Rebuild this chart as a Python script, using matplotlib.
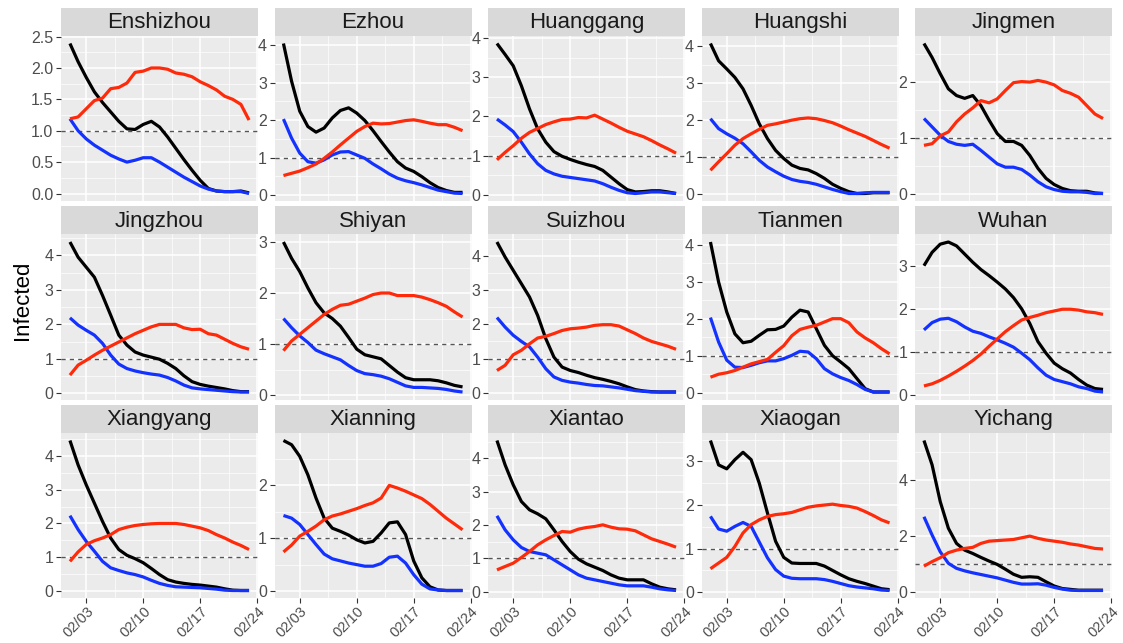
import numpy as np
import pandas as pd
import matplotlib
matplotlib.use("Agg")
import matplotlib.pyplot as plt
import matplotlib.dates as mdates
from matplotlib.ticker import MultipleLocator, FormatStrFormatter

plt.rcParams['font.family'] = ['Liberation Sans', 'DejaVu Sans']

# ---------------- data ----------------
dates = pd.date_range("2020-02-01", periods=23, freq="D")

cities = ["Enshizhou", "Ezhou", "Huanggang", "Huangshi", "Jingmen",
          "Jingzhou", "Shiyan", "Suizhou", "Tianmen", "Wuhan",
          "Xiangyang", "Xianning", "Xiantao", "Xiaogan", "Yichang"]

black = {
    "Enshizhou": [2.39, 2.1, 1.85, 1.62, 1.45, 1.3, 1.15, 1.03, 1.02, 1.1, 1.15, 1.06, 0.9, 0.72, 0.54, 0.37, 0.21, 0.08, 0.04, 0.03, 0.03, 0.04, 0.01],
    "Ezhou": [4.05, 3.04, 2.24, 1.83, 1.68, 1.79, 2.06, 2.26, 2.33, 2.19, 1.99, 1.72, 1.43, 1.15, 0.89, 0.72, 0.63, 0.49, 0.33, 0.2, 0.12, 0.07, 0.07],
    "Huanggang": [3.86, 3.58, 3.29, 2.78, 2.19, 1.68, 1.34, 1.1, 0.98, 0.9, 0.83, 0.77, 0.72, 0.62, 0.45, 0.28, 0.13, 0.07, 0.08, 0.1, 0.1, 0.07, 0.03],
    "Huangshi": [4.07, 3.6, 3.38, 3.15, 2.84, 2.39, 1.89, 1.49, 1.17, 0.95, 0.77, 0.68, 0.64, 0.54, 0.41, 0.25, 0.14, 0.05, 0.0, 0.0, 0.02, 0.02, 0.02],
    "Jingmen": [2.68, 2.43, 2.14, 1.87, 1.75, 1.7, 1.75, 1.57, 1.31, 1.07, 0.93, 0.93, 0.86, 0.68, 0.45, 0.27, 0.16, 0.09, 0.05, 0.04, 0.04, 0.01, 0.0],
    "Jingzhou": [4.39, 3.95, 3.66, 3.37, 2.84, 2.27, 1.69, 1.4, 1.2, 1.11, 1.05, 0.99, 0.87, 0.72, 0.51, 0.34, 0.26, 0.21, 0.17, 0.13, 0.08, 0.05, 0.05],
    "Shiyan": [3.0, 2.68, 2.42, 2.1, 1.81, 1.61, 1.5, 1.35, 1.13, 0.9, 0.79, 0.75, 0.71, 0.58, 0.45, 0.34, 0.3, 0.3, 0.3, 0.28, 0.24, 0.19, 0.16],
    "Suizhou": [4.41, 3.97, 3.58, 3.19, 2.8, 2.26, 1.58, 1.04, 0.75, 0.65, 0.59, 0.51, 0.44, 0.39, 0.33, 0.26, 0.17, 0.09, 0.05, 0.03, 0.02, 0.02, 0.02],
    "Tianmen": [4.07, 2.99, 2.18, 1.59, 1.35, 1.39, 1.55, 1.7, 1.71, 1.8, 2.04, 2.23, 2.18, 1.73, 1.28, 1.0, 0.83, 0.65, 0.38, 0.11, 0.02, 0.02, 0.02],
    "Wuhan": [3.0, 3.31, 3.5, 3.55, 3.46, 3.27, 3.08, 2.91, 2.77, 2.62, 2.46, 2.26, 2.0, 1.66, 1.24, 0.97, 0.74, 0.61, 0.51, 0.36, 0.23, 0.15, 0.13],
    "Xiangyang": [4.45, 3.73, 3.14, 2.6, 2.06, 1.57, 1.23, 1.06, 0.96, 0.84, 0.67, 0.49, 0.34, 0.27, 0.23, 0.2, 0.18, 0.15, 0.12, 0.07, 0.03, 0.02, 0.02],
    "Xianning": [2.85, 2.77, 2.55, 2.2, 1.76, 1.38, 1.19, 1.13, 1.06, 0.97, 0.91, 0.94, 1.1, 1.29, 1.31, 1.07, 0.57, 0.25, 0.08, 0.02, 0.01, 0.01, 0.01],
    "Xiantao": [4.53, 3.8, 3.2, 2.7, 2.45, 2.33, 2.18, 1.85, 1.5, 1.2, 0.97, 0.83, 0.73, 0.63, 0.5, 0.4, 0.35, 0.35, 0.35, 0.23, 0.13, 0.08, 0.05],
    "Xiaogan": [3.48, 2.92, 2.83, 3.04, 3.21, 3.04, 2.5, 1.82, 1.17, 0.8, 0.67, 0.66, 0.66, 0.66, 0.6, 0.5, 0.4, 0.31, 0.25, 0.2, 0.14, 0.08, 0.06],
    "Yichang": [5.42, 4.55, 3.24, 2.29, 1.75, 1.51, 1.39, 1.25, 1.12, 1.0, 0.83, 0.65, 0.54, 0.56, 0.54, 0.38, 0.23, 0.14, 0.11, 0.08, 0.08, 0.08, 0.08],
}

blue = {
    "Enshizhou": [1.19, 1.0, 0.87, 0.77, 0.69, 0.61, 0.55, 0.5, 0.53, 0.57, 0.57, 0.5, 0.42, 0.34, 0.26, 0.19, 0.12, 0.07, 0.04, 0.03, 0.03, 0.03, 0.0],
    "Ezhou": [2.03, 1.52, 1.12, 0.89, 0.85, 0.94, 1.07, 1.15, 1.16, 1.07, 0.98, 0.83, 0.7, 0.56, 0.45, 0.38, 0.33, 0.27, 0.2, 0.13, 0.09, 0.05, 0.04],
    "Huanggang": [1.93, 1.78, 1.61, 1.34, 1.04, 0.79, 0.62, 0.53, 0.47, 0.44, 0.41, 0.38, 0.35, 0.28, 0.19, 0.11, 0.05, 0.03, 0.05, 0.07, 0.07, 0.05, 0.03],
    "Huangshi": [2.03, 1.76, 1.62, 1.5, 1.35, 1.13, 0.9, 0.72, 0.59, 0.47, 0.38, 0.33, 0.3, 0.25, 0.18, 0.11, 0.05, 0.0, 0.0, 0.02, 0.03, 0.03, 0.03],
    "Jingmen": [1.34, 1.19, 1.04, 0.93, 0.88, 0.86, 0.88, 0.77, 0.65, 0.53, 0.47, 0.47, 0.43, 0.33, 0.21, 0.12, 0.07, 0.04, 0.03, 0.03, 0.02, 0.0, 0.0],
    "Jingzhou": [2.19, 1.98, 1.83, 1.69, 1.45, 1.11, 0.85, 0.72, 0.65, 0.6, 0.56, 0.53, 0.46, 0.36, 0.24, 0.16, 0.13, 0.11, 0.09, 0.07, 0.05, 0.04, 0.04],
    "Shiyan": [1.5, 1.32, 1.16, 1.03, 0.88, 0.81, 0.75, 0.69, 0.58, 0.48, 0.42, 0.4, 0.37, 0.32, 0.25, 0.18, 0.15, 0.15, 0.14, 0.13, 0.11, 0.08, 0.06],
    "Suizhou": [2.2, 1.92, 1.68, 1.5, 1.34, 1.04, 0.7, 0.46, 0.36, 0.31, 0.28, 0.24, 0.21, 0.2, 0.17, 0.14, 0.1, 0.06, 0.04, 0.02, 0.02, 0.02, 0.02],
    "Tianmen": [2.03, 1.37, 0.88, 0.69, 0.68, 0.74, 0.81, 0.86, 0.86, 0.92, 1.01, 1.12, 1.1, 0.92, 0.65, 0.51, 0.41, 0.33, 0.22, 0.09, 0.02, 0.02, 0.02],
    "Wuhan": [1.51, 1.68, 1.76, 1.78, 1.7, 1.58, 1.48, 1.43, 1.35, 1.28, 1.2, 1.11, 0.97, 0.82, 0.63, 0.46, 0.36, 0.31, 0.26, 0.19, 0.15, 0.09, 0.07],
    "Xiangyang": [2.23, 1.82, 1.47, 1.18, 0.88, 0.69, 0.61, 0.54, 0.49, 0.42, 0.32, 0.23, 0.17, 0.13, 0.12, 0.11, 0.1, 0.08, 0.06, 0.03, 0.02, 0.02, 0.02],
    "Xianning": [1.43, 1.38, 1.26, 1.07, 0.88, 0.7, 0.61, 0.57, 0.53, 0.5, 0.47, 0.47, 0.52, 0.64, 0.66, 0.53, 0.31, 0.13, 0.04, 0.02, 0.01, 0.01, 0.01],
    "Xiantao": [2.27, 1.85, 1.55, 1.32, 1.2, 1.15, 1.1, 0.95, 0.8, 0.65, 0.5, 0.4, 0.35, 0.3, 0.25, 0.2, 0.17, 0.17, 0.17, 0.13, 0.08, 0.05, 0.03],
    "Xiaogan": [1.74, 1.45, 1.4, 1.51, 1.6, 1.51, 1.15, 0.79, 0.52, 0.37, 0.32, 0.31, 0.31, 0.31, 0.29, 0.25, 0.2, 0.15, 0.12, 0.1, 0.08, 0.05, 0.04],
    "Yichang": [2.7, 2.05, 1.45, 1.04, 0.86, 0.77, 0.7, 0.64, 0.58, 0.52, 0.44, 0.36, 0.3, 0.3, 0.31, 0.26, 0.18, 0.12, 0.08, 0.07, 0.07, 0.07, 0.07],
}

red = {
    "Enshizhou": [1.19, 1.22, 1.35, 1.48, 1.52, 1.67, 1.69, 1.76, 1.93, 1.95, 2.0, 2.0, 1.98, 1.92, 1.9, 1.86, 1.78, 1.72, 1.65, 1.55, 1.5, 1.42, 1.17],
    "Ezhou": [0.52, 0.58, 0.64, 0.73, 0.83, 0.98, 1.15, 1.34, 1.52, 1.7, 1.83, 1.92, 1.9, 1.91, 1.95, 1.99, 2.01, 1.97, 1.92, 1.88, 1.88, 1.81, 1.72],
    "Huanggang": [0.89, 1.08, 1.25, 1.44, 1.59, 1.69, 1.79, 1.86, 1.92, 1.93, 1.97, 1.96, 2.03, 1.93, 1.83, 1.72, 1.62, 1.55, 1.48, 1.38, 1.27, 1.17, 1.06],
    "Huangshi": [0.63, 0.86, 1.08, 1.31, 1.49, 1.62, 1.74, 1.85, 1.89, 1.94, 1.99, 2.03, 2.05, 2.03, 1.98, 1.92, 1.83, 1.73, 1.64, 1.55, 1.44, 1.33, 1.23],
    "Jingmen": [0.86, 0.89, 1.03, 1.1, 1.28, 1.42, 1.53, 1.66, 1.62, 1.69, 1.84, 1.98, 2.0, 1.99, 2.02, 1.99, 1.94, 1.84, 1.79, 1.72, 1.57, 1.42, 1.34],
    "Jingzhou": [0.53, 0.82, 0.96, 1.11, 1.25, 1.37, 1.49, 1.61, 1.73, 1.83, 1.93, 2.0, 2.0, 2.0, 1.9, 1.85, 1.86, 1.73, 1.69, 1.57, 1.45, 1.35, 1.28],
    "Shiyan": [0.87, 1.06, 1.19, 1.32, 1.45, 1.58, 1.68, 1.76, 1.78, 1.84, 1.9, 1.97, 2.0, 2.0, 1.95, 1.95, 1.95, 1.92, 1.87, 1.81, 1.74, 1.63, 1.53],
    "Suizhou": [0.65, 0.8, 1.11, 1.24, 1.43, 1.6, 1.65, 1.73, 1.82, 1.87, 1.89, 1.92, 1.97, 1.99, 1.99, 1.95, 1.84, 1.73, 1.6, 1.5, 1.43, 1.36, 1.27],
    "Tianmen": [0.42, 0.5, 0.54, 0.6, 0.69, 0.78, 0.84, 0.9, 1.09, 1.27, 1.54, 1.71, 1.77, 1.82, 1.91, 2.0, 2.0, 1.89, 1.64, 1.48, 1.35, 1.19, 1.05],
    "Wuhan": [0.21, 0.26, 0.34, 0.44, 0.55, 0.67, 0.8, 0.95, 1.13, 1.3, 1.47, 1.61, 1.74, 1.8, 1.85, 1.91, 1.95, 1.99, 1.99, 1.97, 1.93, 1.91, 1.87],
    "Xiangyang": [0.88, 1.16, 1.38, 1.49, 1.57, 1.67, 1.82, 1.89, 1.94, 1.97, 1.99, 2.0, 2.0, 2.0, 1.97, 1.92, 1.87, 1.79, 1.67, 1.57, 1.45, 1.35, 1.23],
    "Xianning": [0.74, 0.87, 1.04, 1.13, 1.23, 1.35, 1.42, 1.46, 1.51, 1.56, 1.62, 1.67, 1.76, 2.0, 1.95, 1.89, 1.82, 1.75, 1.64, 1.51, 1.38, 1.27, 1.16],
    "Xiantao": [0.65, 0.75, 0.85, 1.02, 1.2, 1.4, 1.55, 1.68, 1.8, 1.78, 1.87, 1.92, 1.95, 2.0, 1.93, 1.88, 1.87, 1.82, 1.7, 1.58, 1.5, 1.42, 1.33],
    "Xiaogan": [0.54, 0.67, 0.8, 1.05, 1.36, 1.55, 1.66, 1.74, 1.78, 1.8, 1.83, 1.89, 1.95, 1.98, 2.0, 2.02, 1.99, 1.97, 1.93, 1.85, 1.76, 1.66, 1.59],
    "Yichang": [0.94, 1.1, 1.24, 1.42, 1.51, 1.57, 1.61, 1.75, 1.83, 1.85, 1.87, 1.89, 1.95, 2.01, 1.93, 1.87, 1.83, 1.79, 1.73, 1.69, 1.63, 1.57, 1.55],
}

ytick_step = {"Enshizhou": 0.5, "Yichang": 2.0}
xtick_labels_days = [3, 10, 17, 24]
ylabel = "Infected"

# ---------------- styling ----------------
W, H = 1123, 643
fig = plt.figure(figsize=(W / 100, H / 100), dpi=100)

col_left0, col_w, col_step = 61, 197, 213.5
row_top0, row_step = 8, 198.5
strip_h, plot_h = 28, 165

PANEL_BG = "#EBEBEB"
STRIP_BG = "#D9D9D9"
TICK_COL = "#4D4D4D"
COL_BLACK = "#000000"
COL_BLUE = "#1432FF"
COL_RED = "#FF2A0A"

xnum = mdates.date2num(dates)
major_days = [mdates.date2num(pd.Timestamp(2020, 2, d)) for d in xtick_labels_days]
minor_days = [(a + b) / 2 for a, b in zip(major_days[:-1], major_days[1:])]

for i, city in enumerate(cities):
    r, c = divmod(i, 5)
    x0 = col_left0 + c * col_step
    top = row_top0 + r * row_step
    # strip
    sax = fig.add_axes([x0 / W, 1 - (top + strip_h) / H, col_w / W, strip_h / H])
    sax.set_facecolor(STRIP_BG)
    sax.set_xticks([]); sax.set_yticks([])
    for s in sax.spines.values():
        s.set_visible(False)
    sax.text(0.5, 0.47, city, ha="center", va="center", fontsize=16,
             color="#1A1A1A", transform=sax.transAxes)
    # panel
    ax = fig.add_axes([x0 / W, 1 - (top + strip_h + plot_h) / H, col_w / W, plot_h / H])
    ax.set_facecolor(PANEL_BG)
    for s in ax.spines.values():
        s.set_visible(False)
    ax.axhline(1.0, color="#555555", lw=1.0, ls=(0, (3, 3)), zorder=2)
    ax.plot(xnum, black[city], color=COL_BLACK, lw=2.3, zorder=3, solid_capstyle="butt")
    ax.plot(xnum, blue[city], color=COL_BLUE, lw=2.3, zorder=3, solid_capstyle="butt")
    ax.plot(xnum, red[city], color=COL_RED, lw=2.3, zorder=3, solid_capstyle="butt")
    ax.margins(x=0.05, y=0.05)
    step = ytick_step.get(city, 1.0)
    ax.yaxis.set_major_locator(MultipleLocator(step))
    ax.yaxis.set_minor_locator(MultipleLocator(step / 2))
    if step < 1:
        ax.yaxis.set_major_formatter(FormatStrFormatter("%.1f"))
    else:
        ax.yaxis.set_major_formatter(FormatStrFormatter("%d"))
    ax.set_xticks(major_days)
    ax.set_xticks(minor_days, minor=True)
    ax.set_xticklabels([pd.Timestamp(2020, 2, d).strftime("%m/%d") for d in xtick_labels_days])
    ax.grid(which="major", color="white", lw=1.1, zorder=0)
    ax.grid(which="minor", color="white", lw=0.5, zorder=0)
    ax.set_axisbelow(True)
    ax.tick_params(axis="y", which="major", length=3.5, width=0.8, color="#333333",
                   labelsize=11.5, labelcolor=TICK_COL, pad=2)
    ax.tick_params(axis="both", which="minor", length=0)
    if r == 2:
        ax.tick_params(axis="x", which="major", length=3.5, width=0.8, color="#333333",
                       labelsize=10.5, labelcolor=TICK_COL, pad=1)
        for lab in ax.get_xticklabels():
            lab.set_rotation(45)
            lab.set_ha("right")
            lab.set_va("top")
            lab.set_rotation_mode("anchor")
    else:
        ax.tick_params(axis="x", which="major", length=0, labelbottom=False)

fig.text(22 / W, 1 - 300 / H, ylabel, rotation=90, ha="center", va="center", fontsize=16, color="black")

fig.savefig("out.png", dpi=100, facecolor="white")
